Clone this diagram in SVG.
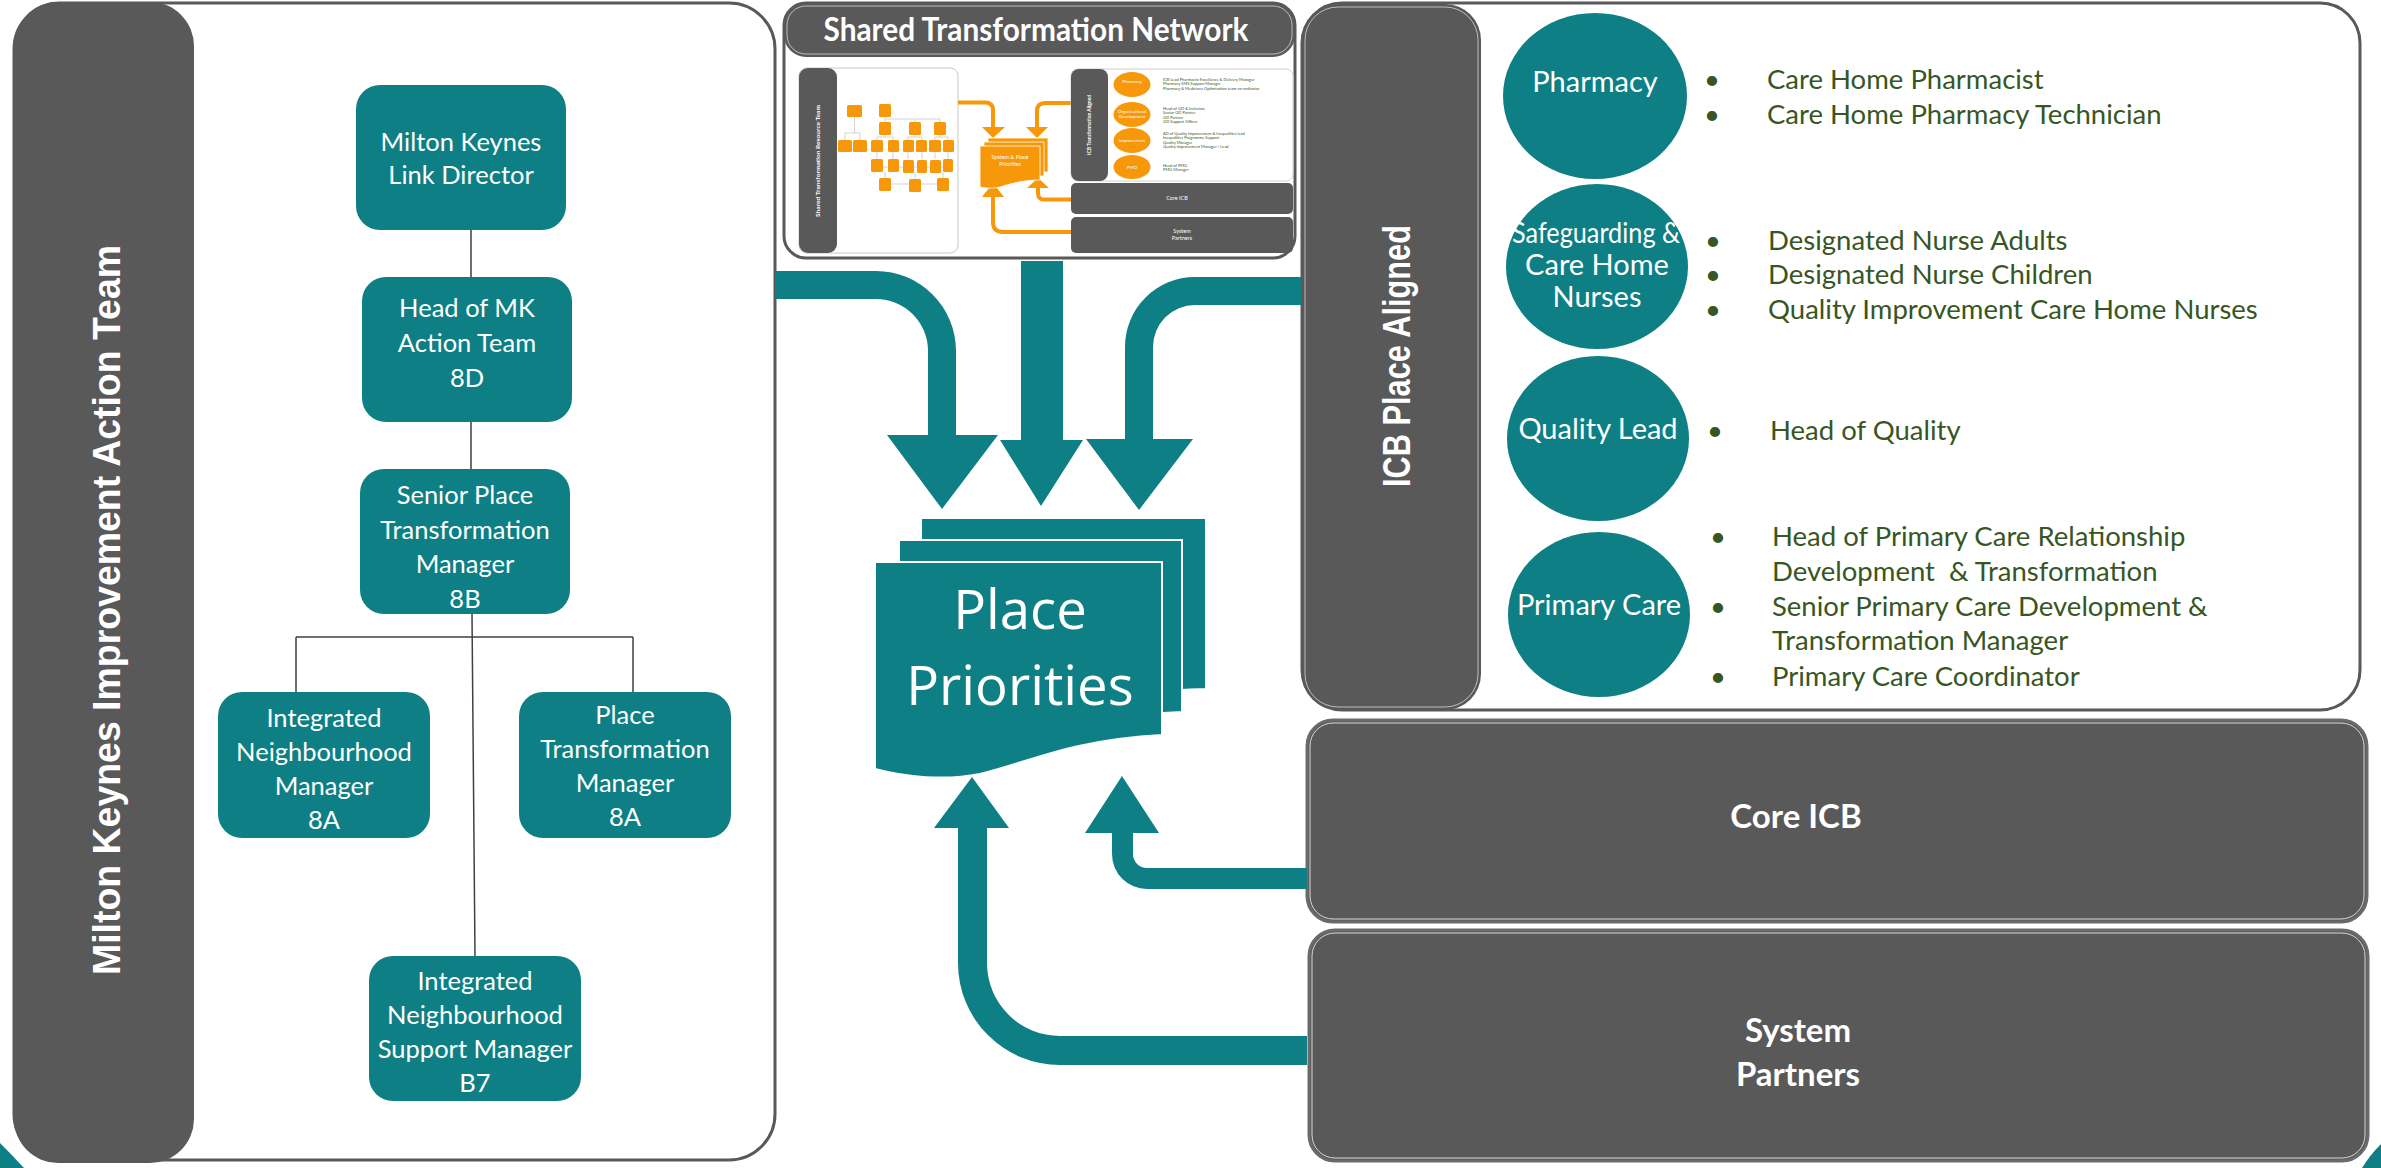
<svg xmlns="http://www.w3.org/2000/svg" width="2381" height="1168" viewBox="0 0 2381 1168">
<defs>
<style>
.teal{fill:#0e7f84}
.dg{fill:#595959}
.org{fill:#f7980a}
.bx{font-family:Lato,"Liberation Sans",sans-serif;font-size:25.5px;fill:#fff;text-anchor:middle}
.cir{font-family:Lato,"Liberation Sans",sans-serif;font-size:29px;fill:#fff;text-anchor:middle}
.li{font-family:Lato,"Liberation Sans",sans-serif;font-size:27.5px;fill:#375623}
.vt{font-family:"Liberation Sans",Arial,sans-serif;font-weight:bold;fill:#fff;text-anchor:middle}
.bar{font-family:Lato,"Liberation Sans",sans-serif;font-weight:bold;font-size:33px;fill:#fff;text-anchor:middle}
.ln{stroke:#404040;stroke-width:1.5;fill:none}
.tl{stroke:#c8c8c8;stroke-width:0.8;fill:none}
.tt{font-family:Lato,"Liberation Sans",sans-serif;fill:#fff;text-anchor:middle}
.tg{font-family:Lato,"Liberation Sans",sans-serif;font-size:4px;fill:#375623}
</style>
</defs>
<rect width="2381" height="1168" fill="#fff"/>

<!-- slide corner decorations -->
<path class="teal" d="M0,1143 Q12,1155 24,1168 L0,1168 Z"/>
<path class="teal" d="M2381,1144 Q2370,1155 2362,1168 L2381,1168 Z"/>

<!-- Left panel -->
<g id="mk-panel">
<rect x="14" y="3" width="761" height="1157" rx="46" fill="#fff" stroke="#595959" stroke-width="3"/>
<rect class="dg" x="14" y="2" width="180" height="1161" rx="44"/>
<text class="vt" font-size="38" textLength="730" lengthAdjust="spacingAndGlyphs" transform="translate(120,610) rotate(-90)">Milton Keynes Improvement Action Team</text>
</g>

<g id="org-connectors">
<path class="ln" d="M471,230 V277 M471,422 V469 M472,614 L475,956 M296,637 H633 M296,637 V692 M633,637 V692"/>
</g>

<g id="node-link-director">
<rect class="teal" x="356" y="85" width="210" height="145" rx="24"/>
<text class="bx"><tspan x="461" y="151">Milton Keynes</tspan><tspan x="461" y="184">Link Director</tspan></text>
</g>
<g id="node-head-mk">
<rect class="teal" x="362" y="277" width="210" height="145" rx="24"/>
<text class="bx"><tspan x="467" y="317">Head of MK</tspan><tspan x="467" y="352">Action Team</tspan><tspan x="467" y="387">8D</tspan></text>
</g>
<g id="node-senior-place">
<rect class="teal" x="360" y="469" width="210" height="145" rx="24"/>
<text class="bx"><tspan x="465" y="504">Senior Place</tspan><tspan x="465" y="539">Transformation</tspan><tspan x="465" y="573">Manager</tspan><tspan x="465" y="608">8B</tspan></text>
</g>
<g id="node-int-neigh-mgr">
<rect class="teal" x="218" y="692" width="212" height="146" rx="24"/>
<text class="bx"><tspan x="324" y="727">Integrated</tspan><tspan x="324" y="761">Neighbourhood</tspan><tspan x="324" y="795">Manager</tspan><tspan x="324" y="829">8A</tspan></text>
</g>
<g id="node-place-trans-mgr">
<rect class="teal" x="519" y="692" width="212" height="146" rx="24"/>
<text class="bx"><tspan x="625" y="724">Place</tspan><tspan x="625" y="758">Transformation</tspan><tspan x="625" y="792">Manager</tspan><tspan x="625" y="826">8A</tspan></text>
</g>
<g id="node-int-neigh-support">
<rect class="teal" x="369" y="956" width="212" height="145" rx="24"/>
<text class="bx"><tspan x="475" y="990">Integrated</tspan><tspan x="475" y="1024">Neighbourhood</tspan><tspan x="475" y="1058">Support Manager</tspan><tspan x="475" y="1092">B7</tspan></text>
</g>

<!-- Shared Transformation Network -->
<g id="stn-panel">
<rect x="784" y="3" width="511" height="255" rx="22" fill="#fff" stroke="#595959" stroke-width="3"/>
<rect class="dg" x="784" y="3" width="511" height="54" rx="22"/>
<rect x="787" y="6" width="505" height="48" rx="19" fill="none" stroke="#fff" stroke-width="1" opacity="0.6"/>
<text class="bar" x="1036" y="41" font-size="31" textLength="425" lengthAdjust="spacingAndGlyphs">Shared Transformation Network</text>

<g id="stn-thumbnail">
<rect x="799" y="68" width="159" height="185" rx="8" fill="#fff" stroke="#c8c8c8" stroke-width="1"/>
<rect class="dg" x="799" y="68" width="38" height="185" rx="9"/>
<text class="tt" font-size="6" font-weight="bold" textLength="112" lengthAdjust="spacingAndGlyphs" transform="translate(820,161) rotate(-90)">Shared Transformation Resource Team</text>
<path class="tl" d="M854.5,117 V133 M845,133 H860 M845,133 V140 M860,133 V140 M885,117 V122 M885,119 H940 M915,119 V122 M940,119 V122 M885,135 V137 M877,137 H893 M877,137 V159 M893,137 V159 M915,135 V137 M908,137 H922 M908,137 V159 M922,137 V159 M940,135 V137 M935,137 H948 M935,137 V159 M948,137 V159 M877,167 H953 M885,172 V184 M885,184 H943 M915,172 V184 M943,172 V184"/>
<g class="org">
<rect x="847" y="105" width="15" height="12" rx="1.5"/><rect x="879" y="104" width="12" height="13" rx="1.5"/>
<rect x="879" y="122" width="12" height="13" rx="1.5"/><rect x="909" y="122" width="12" height="13" rx="1.5"/><rect x="934" y="122" width="12" height="13" rx="1.5"/>
<rect x="838" y="140" width="14" height="12" rx="1.5"/><rect x="853" y="140" width="14" height="12" rx="1.5"/><rect x="871" y="140" width="12" height="12" rx="1.5"/><rect x="888" y="140" width="11" height="12" rx="1.5"/><rect x="903" y="140" width="11" height="12" rx="1.5"/><rect x="916" y="140" width="11" height="12" rx="1.5"/><rect x="929" y="140" width="12" height="12" rx="1.5"/><rect x="943" y="140" width="11" height="12" rx="1.5"/>
<rect x="871" y="159" width="12" height="13" rx="1.5"/><rect x="888" y="159" width="11" height="13" rx="1.5"/><rect x="903" y="160" width="11" height="13" rx="1.5"/><rect x="917" y="160" width="10" height="13" rx="1.5"/><rect x="930" y="160" width="11" height="13" rx="1.5"/><rect x="943" y="159" width="10" height="13" rx="1.5"/>
<rect x="879" y="178" width="12" height="13" rx="1.5"/><rect x="909" y="179" width="12" height="13" rx="1.5"/><rect x="937" y="178" width="12" height="13" rx="1.5"/>
</g>
<!-- thumbnail arrows -->
<path d="M958,102.5 H985 Q993,102.5 993,110 V128 M1071,103 H1045 Q1037,103 1037,111 V128 M993,196 V222 Q993,232 1003,232 H1071 M1038,187 V193 Q1038,199.5 1044,199.5 H1071" fill="none" stroke="#f7980a" stroke-width="4"/>
<path class="org" d="M982,127 H1005 L993,138 Z M1026,127 H1048 L1037,138 Z M982,197 H1004 L993,183 Z M1027,188 H1049 L1038,178 Z"/>
<path class="org" d="M988,138 H1048 V172 C1030,172 1018,176 1008,179 C998,181 994,180 988,179 Z" stroke="#fff" stroke-width="0.8"/>
<path class="org" d="M984,142 H1044 V176 C1026,176 1014,180 1004,183 C994,185 990,184 984,183 Z" stroke="#fff" stroke-width="0.8"/>
<path class="org" d="M980,146 H1040 V180 C1022,180 1010,184 1000,187 C990,189 986,188 980,187 Z" stroke="#fff" stroke-width="0.8"/>
<text class="tt" font-size="5.5"><tspan x="1010" y="159">System &amp; Place</tspan><tspan x="1010" y="166">Priorities</tspan></text>
<rect x="1071" y="69" width="222" height="112" rx="7" fill="#fff" stroke="#d0d0d0" stroke-width="1"/>
<rect class="dg" x="1071" y="69" width="37" height="112" rx="8"/>
<text class="tt" font-size="5.5" font-weight="bold" textLength="60" lengthAdjust="spacingAndGlyphs" transform="translate(1091,125) rotate(-90)">ICB Transformation Aligned</text>
<g class="org">
<ellipse cx="1132" cy="84.5" rx="18.5" ry="12.5"/><ellipse cx="1132" cy="114.5" rx="18.5" ry="12.5"/><ellipse cx="1132" cy="140.5" rx="18.5" ry="12.5"/><ellipse cx="1132" cy="167" rx="18.5" ry="12"/>
</g>
<text class="tt" font-size="4.5"><tspan x="1132" y="83">Pharmacy</tspan><tspan x="1132" y="113">Organisational</tspan><tspan x="1132" y="118">Development</tspan><tspan x="1132" y="142">Improvement</tspan><tspan x="1132" y="168.5">PMO</tspan></text>
<text class="tg">
<tspan x="1163" y="80.5">ICB Lead Pharmacist Excellence &amp; Delivery Manager</tspan><tspan x="1163" y="85">Pharmacy SMS Support Manager</tspan><tspan x="1163" y="89.5">Pharmacy &amp; Medicines Optimisation team co-ordinator</tspan>
<tspan x="1163" y="109.5">Head of OD &amp; Inclusion</tspan><tspan x="1163" y="114">Senior OD Partner</tspan><tspan x="1163" y="118.5">OD Partner</tspan><tspan x="1163" y="123">OD Support Officer</tspan>
<tspan x="1163" y="134.5">AD of Quality Improvement &amp; Inequalities lead</tspan><tspan x="1163" y="139">Inequalities Programme Support</tspan><tspan x="1163" y="143.5">Quality Manager</tspan><tspan x="1163" y="148">Quality Improvement Manager / Lead</tspan>
<tspan x="1163" y="166.5">Head of PMO</tspan><tspan x="1163" y="171">PMO Manager</tspan>
</text>
<rect class="dg" x="1071" y="183" width="222" height="31" rx="5"/>
<text class="tt" font-size="5.5" x="1177" y="200">Core ICB</text>
<rect class="dg" x="1071" y="217" width="222" height="36" rx="5"/>
<text class="tt" font-size="5.5"><tspan x="1182" y="233">System</tspan><tspan x="1182" y="240">Partners</tspan></text>
</g>
</g>

<!-- ICB Place Aligned -->
<g id="icb-panel">
<rect x="1302" y="3" width="1058" height="707" rx="40" fill="#fff" stroke="#595959" stroke-width="3"/>
<rect class="dg" x="1302" y="4" width="179" height="706" rx="36"/>
<rect x="1305" y="7" width="173" height="700" rx="33" fill="none" stroke="#fff" stroke-width="1" opacity="0.6"/>
<text class="vt" font-size="39" textLength="262" lengthAdjust="spacingAndGlyphs" transform="translate(1410,356) rotate(-90)">ICB Place Aligned</text>
</g>
<g id="node-pharmacy">
<ellipse class="teal" cx="1595" cy="96" rx="92" ry="83"/>
<text class="cir" x="1595" y="92">Pharmacy</text>
<text class="li"><tspan x="1704" y="89">•</tspan><tspan x="1767" y="89">Care Home Pharmacist</tspan><tspan x="1704" y="124">•</tspan><tspan x="1767" y="124">Care Home Pharmacy Technician</tspan></text>
</g>
<g id="node-safeguarding">
<ellipse class="teal" cx="1597" cy="266.5" rx="91" ry="82.5"/>
<text class="cir" font-size="26"><tspan x="1596" y="243" textLength="168" lengthAdjust="spacingAndGlyphs">Safeguarding &amp;</tspan><tspan x="1597" y="275">Care Home</tspan><tspan x="1597" y="307">Nurses</tspan></text>
<text class="li"><tspan x="1705" y="250">•</tspan><tspan x="1768" y="250">Designated Nurse Adults</tspan><tspan x="1705" y="284">•</tspan><tspan x="1768" y="284">Designated Nurse Children</tspan><tspan x="1705" y="319">•</tspan><tspan x="1768" y="319">Quality Improvement Care Home Nurses</tspan></text>
</g>
<g id="node-quality-lead">
<ellipse class="teal" cx="1598" cy="438.5" rx="91" ry="82.5"/>
<text class="cir" x="1598" y="439">Quality Lead</text>
<text class="li"><tspan x="1707" y="440">•</tspan><tspan x="1770" y="440">Head of Quality</tspan></text>
</g>
<g id="node-primary-care">
<ellipse class="teal" cx="1599" cy="614.5" rx="91" ry="82.5"/>
<text class="cir" x="1599" y="615">Primary Care</text>
<text class="li"><tspan x="1710" y="546">•</tspan><tspan x="1772" y="546">Head of Primary Care Relationship</tspan><tspan x="1772" y="581">Development &#160;&amp; Transformation</tspan><tspan x="1710" y="616">•</tspan><tspan x="1772" y="616">Senior Primary Care Development &amp;</tspan><tspan x="1772" y="650">Transformation Manager</tspan><tspan x="1710" y="686">•</tspan><tspan x="1772" y="686">Primary Care Coordinator</tspan></text>
</g>

<g id="node-core-icb">
<rect class="dg" x="1307" y="720" width="1060" height="202" rx="26" stroke="#6a6a6a" stroke-width="3"/>
<rect x="1310" y="723" width="1054" height="196" rx="23" fill="none" stroke="#d9d9d9" stroke-width="1"/>
<text class="bar" x="1796" y="828">Core ICB</text>
</g>
<g id="node-system-partners">
<rect class="dg" x="1309" y="930" width="1059" height="231" rx="26" stroke="#6a6a6a" stroke-width="3"/>
<rect x="1312" y="933" width="1053" height="225" rx="23" fill="none" stroke="#d9d9d9" stroke-width="1"/>
<text class="bar"><tspan x="1798" y="1042">System</tspan><tspan x="1798" y="1086">Partners</tspan></text>
</g>

<g id="node-place-priorities">
<path class="teal" d="M921,518 H1206 V689 C1160,690 1120,696 1090,704 L921,704 Z" stroke="#fff" stroke-width="2"/>
<path class="teal" d="M899,540 H1182 V712 C1140,713 1100,720 1070,728 L899,728 Z" stroke="#fff" stroke-width="2"/>
<path class="teal" d="M875,562 H1162 V735 C1070,740 1030,762 980,774 C945,781 905,777 875,769 Z" stroke="#fff" stroke-width="2"/>
<text font-family="'Open Sans','Noto Sans',sans-serif" font-size="54.5" fill="#fff" text-anchor="middle"><tspan x="1020" y="629">Place</tspan><tspan x="1020" y="705">Priorities</tspan></text>
</g>

<g id="connectors">
<path class="teal" d="M775,271 H876 A80,80 0 0 1 956,351 V435 H998 L942,509 L887,435 H928 V351 A52,52 0 0 0 876,299 H775 Z"/>
<path class="teal" d="M1021,261 H1063 V440 H1083 L1041,506 L1000,440 H1021 Z"/>
<path class="teal" d="M1301,277 H1195 A70,70 0 0 0 1125,347 V439 H1086 L1139,510 L1193,439 H1153 V347 A42,42 0 0 1 1195,305 H1301 Z"/>
<path class="teal" d="M1307,1036 H1060 A73,73 0 0 1 987,963 V828 H1009 L972,777 L934,828 H958 V963 A102,102 0 0 0 1060,1065 H1307 Z"/>
<path class="teal" d="M1307,868 H1147 A14,14 0 0 1 1133,854 V833 H1159 L1122,776 L1085,833 H1112 V854 A35,35 0 0 0 1147,889 H1307 Z"/>
</g>
</svg>
